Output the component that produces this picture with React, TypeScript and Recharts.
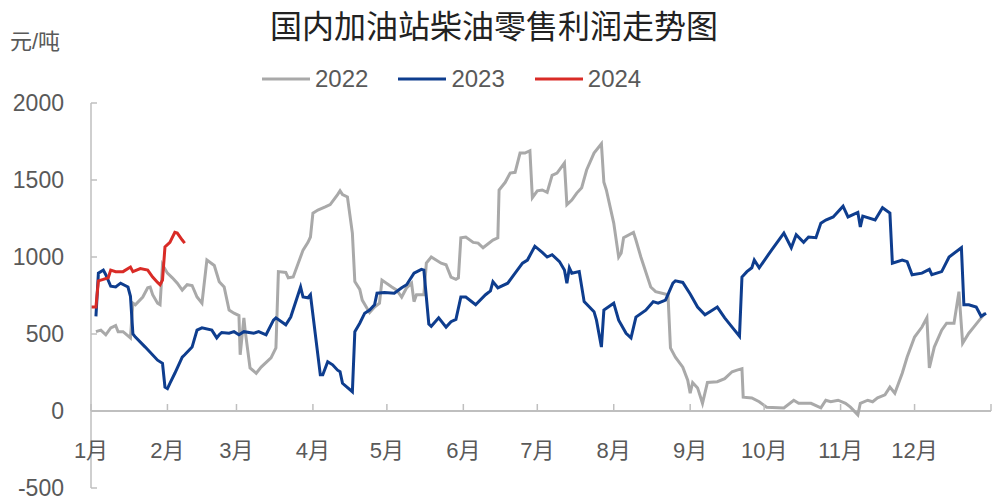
import React from "react";
import { LineChart, Line, XAxis, YAxis, ReferenceLine } from "recharts";

// day of year -> 元/吨
const s2022 = [
  [2, 515], [4, 525], [6, 495], [8, 540], [10, 555], [11, 515], [13, 515], [16, 475], [17, 700], [18, 690],
  [21, 740], [23, 800], [24, 805], [25, 755], [27, 700], [28, 690], [29, 950], [31, 895], [33, 865], [35, 830],
  [37, 785], [39, 820], [41, 815], [43, 740], [45, 700], [47, 980], [50, 945], [52, 840], [54, 805], [56, 655],
  [58, 635], [60, 620], [60.5, 365], [62, 605], [62.5, 525], [64.5, 280], [67, 245], [69, 285], [73, 345], [75, 410],
  [76, 905], [79, 900], [80, 865], [82, 870], [86, 1045], [88, 1095], [89, 1130], [90, 1285], [92, 1305], [95, 1325],
  [97, 1340], [100, 1405], [101, 1430], [102, 1405], [104, 1390], [106, 1155], [107, 840], [109, 790], [110, 720], [112, 665],
  [113, 640], [115, 675], [117, 700], [118, 850], [122, 805], [124, 785], [126, 740], [128, 800], [130, 830], [131, 710],
  [132, 755], [135, 755], [136, 960], [138, 1000], [142, 960], [144, 950], [146, 870], [148, 855], [149, 865], [150, 1125],
  [152, 1130], [155, 1095], [157, 1090], [159, 1060], [163, 1110], [165, 1125], [165.5, 1435], [168, 1485], [170, 1545], [172, 1550],
  [174, 1675], [176, 1675], [178, 1690], [179, 1385], [181, 1430], [183, 1435], [185, 1420], [187, 1530], [189, 1545], [192, 1610],
  [193, 1340], [195, 1370], [197, 1415], [199, 1450], [201, 1565], [204, 1675], [207, 1735], [208, 1485], [209, 1435], [212, 1220],
  [214, 1000], [215, 1025], [216, 1125], [220, 1160], [221, 1110], [223, 1000], [227, 805], [229, 775], [234, 755], [235, 410],
  [237, 350], [240, 285], [242, 200], [243, 115], [244, 185], [246, 150], [248, 50], [250, 185], [254, 190], [257, 210],
  [260, 255], [262, 265], [264, 275], [264.5, 90], [268, 85], [271, 60], [274, 25], [281, 20], [285, 70], [287, 50],
  [292, 50], [296, 20], [298, 70], [300, 60], [303, 70], [306, 50], [308, 25], [311, -25], [312, 50], [315, 70],
  [317, 60], [319, 85], [322, 105], [324, 155], [326, 115], [329, 245], [331, 350], [334, 480], [337, 545], [339, 605],
  [340, 280], [342, 415], [345, 525], [347, 570], [350, 570], [352, 775], [353.5, 440], [356, 505], [358, 545], [361, 605],
  [362.5, 635],
];

const s2023 = [
  [2, 615], [3, 895], [5, 915], [6, 885], [8, 810], [10, 805], [12, 830], [15, 805], [16, 745], [17, 500],
  [18, 480], [22, 415], [27, 330], [29, 310], [30, 155], [31, 145], [32, 180], [34, 245], [37, 350], [38, 365],
  [41, 415], [43, 525], [45, 540], [49, 525], [51, 475], [52, 495], [53, 510], [56, 505], [58, 515], [60, 495],
  [62, 515], [66, 505], [68, 515], [71, 495], [74, 590], [75, 605], [79, 560], [81, 610], [85, 805], [86, 740],
  [88, 735], [89, 755], [93, 235], [94, 235], [96, 320], [98, 300], [100, 265], [101, 255], [102, 180], [106, 125],
  [107, 515], [109, 570], [111, 635], [113, 655], [115, 690], [116, 765], [119, 770], [123, 765], [126, 800], [128, 820],
  [131, 895], [134, 920], [135, 915], [137, 565], [138, 550], [141, 605], [144, 545], [146, 580], [148, 595], [150, 740],
  [152, 740], [156, 690], [160, 755], [162, 780], [163, 840], [165, 800], [169, 830], [172, 895], [175, 960], [177, 980],
  [180, 1070], [183, 1030], [185, 1000], [187, 1015], [190, 970], [192, 915], [193, 830], [194, 930], [195, 895], [198, 905],
  [200, 710], [204, 645], [205, 590], [207, 415], [208, 655], [212, 700], [214, 590], [217, 505], [219, 475], [221, 610],
  [225, 655], [228, 710], [230, 700], [233, 720], [236, 830], [237, 845], [240, 835], [243, 760], [246, 675], [249, 625],
  [251, 645], [254, 675], [257, 605], [260, 545], [263, 485], [264, 870], [266, 905], [268, 930], [269, 980], [271, 930],
  [276, 1045], [281, 1155], [284, 1060], [286, 1145], [289, 1095], [291, 1130], [294, 1125], [296, 1220], [298, 1240], [301, 1260],
  [305, 1330], [307, 1260], [311, 1290], [312, 1195], [313, 1265], [318, 1240], [321, 1320], [324, 1285], [325, 960], [329, 980],
  [331, 970], [333, 885], [337, 895], [340, 920], [341, 885], [345, 905], [348, 1000], [353, 1060], [354, 690], [356, 690],
  [359, 675], [361, 615], [363, 635],
];

const s2024 = [
  [0, 675], [2, 675], [3, 845], [5, 855], [7, 865], [8, 915], [10, 905], [13, 905], [16, 935], [17, 905],
  [20, 925], [23, 915], [25, 870], [27, 835], [28, 820], [29, 850], [30, 1065], [32, 1095], [34, 1160], [35, 1155],
  [37, 1110], [38, 1090],
];

const monthStarts = [0, 31, 59, 90, 120, 151, 181, 212, 243, 273, 304, 334, 365];
const monthLabels = ["1月", "2月", "3月", "4月", "5月", "6月", "7月", "8月", "9月", "10月", "11月", "12月"];
const yTicks = [-500, 0, 500, 1000, 1500, 2000];

const series = [
  { name: "2022", color: "#A9A9A9", points: s2022 },
  { name: "2023", color: "#0E3D8E", points: s2023 },
  { name: "2024", color: "#D92B26", points: s2024 },
];

const toRows = (pts: number[][]) => pts.map(([day, v]) => ({ day, v }));

const W = 1004;
const H = 501;
const TOP = 103;
const X_AXIS_H = 13;
const PLOT_H = H - TOP - X_AXIS_H;
const Y_MIN = -500;
const Y_MAX = 2000;
// distance from plot bottom up to the zero line
const ZERO_UP = (PLOT_H * (0 - Y_MIN)) / (Y_MAX - Y_MIN);

const AXIS = "#BFBFBF";
const TEXT = "#595959";
const FONT = '"Liberation Sans", "Noto Sans CJK SC", sans-serif';

const MonthTick = (props: any) => {
  const { x, y, payload } = props;
  const idx = monthStarts.indexOf(payload.value);
  const zeroY = y - ZERO_UP;
  return (
    <g>
      <line x1={x} x2={x} y1={zeroY} y2={zeroY - 7} stroke={AXIS} strokeWidth={1.5} />
      {idx >= 0 && idx < monthLabels.length && (
        <text x={x} y={y - 38} textAnchor="middle" dominantBaseline="central" fill={TEXT} fontSize={22} fontFamily={FONT}>
          {monthLabels[idx]}
        </text>
      )}
    </g>
  );
};

export default function App() {
  return (
    <div style={{ position: "absolute", left: 0, top: 0, width: W, height: H, background: "#fff", fontFamily: FONT }}>
      <div
        style={{
          position: "absolute", left: 0, top: 8, width: 988, textAlign: "center",
          fontSize: 32, lineHeight: "32px", color: "#222", fontFamily: '"Noto Sans CJK SC", sans-serif',
        }}
      >
        国内加油站柴油零售利润走势图
      </div>
      <div style={{ position: "absolute", left: 10, top: 31, fontSize: 22, lineHeight: "22px", color: TEXT }}>元/吨</div>
      <div style={{ position: "absolute", left: 262, top: 66, display: "flex", gap: 30, alignItems: "center" }}>
        {series.map((s) => (
          <div key={s.name} style={{ display: "flex", alignItems: "center", gap: 5 }}>
            <svg width={48} height={26}>
              <line x1={0} x2={48} y1={13} y2={13} stroke={s.color} strokeWidth={3} />
            </svg>
            <span style={{ fontSize: 24, lineHeight: "26px", color: TEXT }}>{s.name}</span>
          </div>
        ))}
      </div>
      <LineChart width={W} height={H} margin={{ top: TOP, right: 13, bottom: 0, left: 0 }}>
        <XAxis
          dataKey="day"
          type="number"
          domain={[0, 365]}
          ticks={monthStarts}
          interval={0}
          height={X_AXIS_H}
          axisLine={false}
          tickLine={false}
          tickSize={0}
          tickMargin={0}
          tick={<MonthTick />}
          allowDataOverflow
        />
        <YAxis
          type="number"
          domain={[Y_MIN, Y_MAX]}
          ticks={yTicks}
          interval={0}
          width={91}
          axisLine={{ stroke: AXIS, strokeWidth: 1.5 }}
          tickLine={{ stroke: AXIS, strokeWidth: 1.5 }}
          tickSize={-6}
          tickMargin={33}
          tick={{ fill: TEXT, fontSize: 23, fontFamily: FONT }}
        />
        <ReferenceLine y={0} stroke={AXIS} strokeWidth={2} />
        {series.map((s) => (
          <Line
            key={s.name}
            data={toRows(s.points)}
            dataKey="v"
            name={s.name}
            type="linear"
            stroke={s.color}
            strokeWidth={3}
            dot={false}
            activeDot={false}
            isAnimationActive={false}
          />
        ))}
      </LineChart>
    </div>
  );
}
